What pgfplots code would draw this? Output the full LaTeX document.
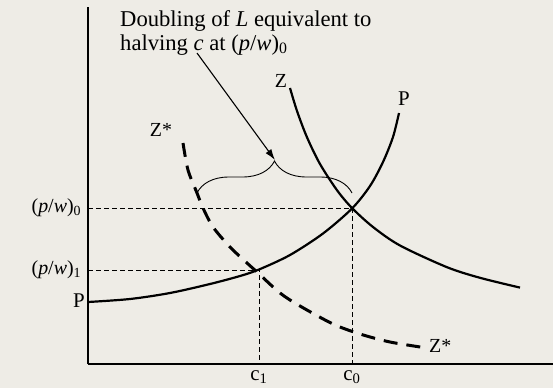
\documentclass[border=0pt]{standalone}
\usepackage{pgfplots}
\pgfplotsset{compat=1.18}
\usepackage{fontspec}
\setmainfont{Liberation Serif}
\usetikzlibrary{arrows.meta,decorations.pathreplacing,backgrounds}
\definecolor{bg}{RGB}{238,236,230}
\begin{document}
\fontsize{20}{24}\selectfont
\begin{tikzpicture}
\begin{axis}[
  x=1bp, y=1bp,
  xmin=88, xmax=553, ymin=24, ymax=381,
  axis x line=bottom, axis y line=left,
  axis line style={-, line width=1.3bp, black},
  clip=false,
  xtick={259,352},
  xticklabels={c\textsubscript{1}, c\textsubscript{0}},
  ytick={118,180},
  yticklabels={(\textit{p}/\textit{w})\textsubscript{1}, (\textit{p}/\textit{w})\textsubscript{0}},
  major tick length=0pt,
  tick style={draw=none},
  ticklabel style={font=\fontsize{20}{24}\selectfont},
  xticklabel style={font=\fontsize{21}{24}\selectfont},
]
\coordinate (bl) at (axis cs:0,0);
\coordinate (tr) at (axis cs:553,388);
% reference lines
\addplot[black, line width=0.9bp, dash pattern=on 5bp off 3bp] coordinates {(88,180) (352,180) (352,24)};
\addplot[black, line width=0.9bp, dash pattern=on 5bp off 3bp] coordinates {(88,118) (259,118) (259,24)};
% P curve
\addplot[black, line width=2.2bp, smooth] coordinates {
 (88,86) (130,89) (170,95) (210,104) (240,112) (259,118.5) (290,133) (323,154.5) (352,179.5) (370,202) (383,226) (393,251) (399,275)};
% Z curve
\addplot[black, line width=2.2bp, smooth] coordinates {
 (290,300) (297,277) (307,250.7) (320,224) (337,197.8) (352,180) (373,161) (400,142.5) (447,120.8) (480,110.2) (520,100.4)};
% Z* curve
\addplot[black, line width=3bp, smooth, dash pattern=on 14bp off 9bp] coordinates {
 (183,245) (188,218) (197,195) (203,180) (213,161) (230,141) (247,125) (257,116) (280,95) (300,82) (333,64) (360,54) (390,46) (427,40)};
% brace and arrow
\draw[line width=0.9bp, decorate, decoration={brace, amplitude=32bp}] (axis cs:197,195) -- (axis cs:352,195);
\draw[line width=1.1bp, -{Latex[length=11bp,width=7bp]}] (axis cs:197,335) -- (axis cs:275,228);
% labels
\node[inner sep=0] at (axis cs:281,307) {Z};
\node[inner sep=0, font=\fontsize{21}{24}\selectfont] at (axis cs:404,289) {P};
\node[inner sep=0] at (axis cs:161,258) {Z*};
\node[inner sep=0, font=\fontsize{21}{24}\selectfont] at (axis cs:79,87) {P};
\node[inner sep=0, anchor=west] at (axis cs:429,42) {Z*};
\node[inner sep=0, anchor=base west, font=\fontsize{22.7}{24}\selectfont] at (axis cs:120,362) {Doubling of \textit{L} equivalent to};
\node[inner sep=0, anchor=base west, font=\fontsize{22.7}{24}\selectfont] at (axis cs:120,338) {halving \textit{c} at (\textit{p}/\textit{w})\textsubscript{0}};
\end{axis}
\begin{scope}[on background layer]
\fill[bg] (bl) rectangle (tr);
\end{scope}
\pgfresetboundingbox
\path (bl) rectangle (tr);
\end{tikzpicture}
\end{document}
